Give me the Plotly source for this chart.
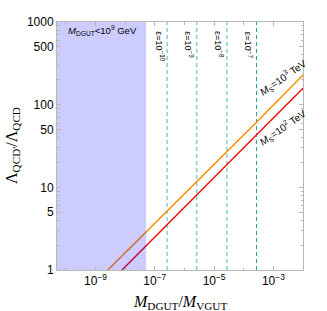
import math
import plotly.graph_objects as go

# ---- data ----
x_range_log = [-10.3, -2.0]
y_range_log = [0.0, 3.0]

orange_x = [2.6e-9, 2.8e-4, 1.0e-2]     # M_S = 10^3 TeV
orange_y = [1.0, 62.0, 229.0]
red_x = [7.8e-9, 2.8e-4, 1.0e-2]        # M_S = 10^2 TeV
red_y = [1.0, 43.0, 158.0]

eps_x = [2.6e-7, 2.6e-6, 2.7e-5, 2.7e-4]
eps_labels = ["ε=10<sup>−10</sup>", "ε=10<sup>−9</sup>", "ε=10<sup>−8</sup>", "ε=10<sup>−7</sup>"]

shade_xmax = 5.1e-8   # M_DGUT < 10^9 GeV

x_tickvals = [1e-9, 1e-7, 1e-5, 1e-3]
x_ticktext = ["10<sup>−9</sup>", "10<sup>−7</sup>", "10<sup>−5</sup>", "10<sup>−3</sup>"]
x_minor = [1e-10, 1e-8, 1e-6, 1e-4, 1e-2]
y_tickvals = [1, 5, 10, 50, 100, 500, 1000]
y_ticktext = ["1", "5", "10", "50", "100", "500", "1000"]
y_minor = [m * d for d in (1, 10, 100) for m in (2, 3, 4, 6, 7, 8, 9)]

fig = go.Figure()

# dashed epsilon lines
for i, xv in enumerate(eps_x):
    light = i < 3
    fig.add_trace(go.Scatter(
        x=[xv, xv], y=[1, 1000], mode="lines",
        line=dict(color="#7ccfcf" if light else "#1ea5a5",
                  width=1.4 if light else 1.0, dash="4px,3px"),
        showlegend=False, hoverinfo="skip"))

fig.add_trace(go.Scatter(x=orange_x, y=orange_y, mode="lines",
                         line=dict(color="#ff8c00", width=1.5), showlegend=False))
fig.add_trace(go.Scatter(x=red_x, y=red_y, mode="lines",
                         line=dict(color="#f01010", width=1.5), showlegend=False))

# shaded excluded region drawn on top
xl = 10 ** x_range_log[0]
fig.add_trace(go.Scatter(
    x=[xl, shade_xmax, shade_xmax, xl, xl], y=[1, 1, 1000, 1000, 1],
    mode="lines", fill="toself", fillcolor="rgba(0,0,255,0.2)",
    line=dict(width=0), showlegend=False, hoverinfo="skip"))

ann = []
# shade label
ann.append(dict(x=-8.75, y=2.903, xref="x", yref="y", showarrow=False,
                text="<i>M</i><sub>DGUT</sub><10<sup>9</sup> GeV",
                font=dict(family="Liberation Sans", size=9.5, color="black")))
# epsilon labels
for xv, t in zip(eps_x, eps_labels):
    ann.append(dict(x=math.log10(xv), y=2.91, xref="x", yref="y", showarrow=False,
                    xshift=-8, xanchor="center", yanchor="top", textangle=90, text=t,
                    font=dict(family="Liberation Sans", size=9, color="black")))
# M_S labels
ann.append(dict(x=-2.675, y=2.33, xref="x", yref="y", showarrow=False, textangle=-35,
                text="<i>M</i><sub>S</sub>=10<sup>3</sup> TeV",
                font=dict(family="Liberation Sans", size=10, color="black")))
ann.append(dict(x=-2.675, y=1.72, xref="x", yref="y", showarrow=False, textangle=-35,
                text="<i>M</i><sub>S</sub>=10<sup>2</sup> TeV",
                font=dict(family="Liberation Sans", size=10, color="black")))
# axis titles
ann.append(dict(x=0.5, y=0, xref="paper", yref="paper", yshift=-32, showarrow=False,
                yanchor="middle", xanchor="center",
                text="<i>M</i><sub>DGUT</sub>/<i>M</i><sub>VGUT</sub>",
                font=dict(family="Liberation Serif", size=16, color="black")))
ann.append(dict(x=0, y=0.5, xref="paper", yref="paper", xshift=-45, showarrow=False,
                yanchor="middle", xanchor="center", textangle=-90,
                text="Λ<sub>QCD'</sub>/Λ<sub>QCD</sub>",
                font=dict(family="Liberation Serif", size=16, color="black")))

axis_common = dict(showgrid=False, zeroline=False, showline=True, linecolor="#b8b8b8",
                   linewidth=1, mirror="allticks", ticks="inside", ticklen=4,
                   tickcolor="#b8b8b8", tickfont=dict(family="Liberation Sans", size=12,
                                                      color="black"))
fig.update_layout(
    width=327, height=311,
    margin=dict(l=57, r=24, t=22, b=41),
    paper_bgcolor="white", plot_bgcolor="white",
    xaxis=dict(type="log", range=x_range_log, tickmode="array", tickvals=x_tickvals,
               ticktext=x_ticktext,
               minor=dict(tickmode="array", tickvals=x_minor, ticks="inside", ticklen=2.5,
                          tickcolor="#b8b8b8"),
               **axis_common),
    yaxis=dict(type="log", range=y_range_log, tickmode="array", tickvals=y_tickvals,
               ticktext=y_ticktext,
               minor=dict(tickmode="array", tickvals=y_minor, ticks="inside", ticklen=2.5,
                          tickcolor="#b8b8b8"),
               **axis_common),
    annotations=ann,
)

fig.write_html("out.html", config={"displayModeBar": False},
               post_script="document.body.style.margin='0';")
